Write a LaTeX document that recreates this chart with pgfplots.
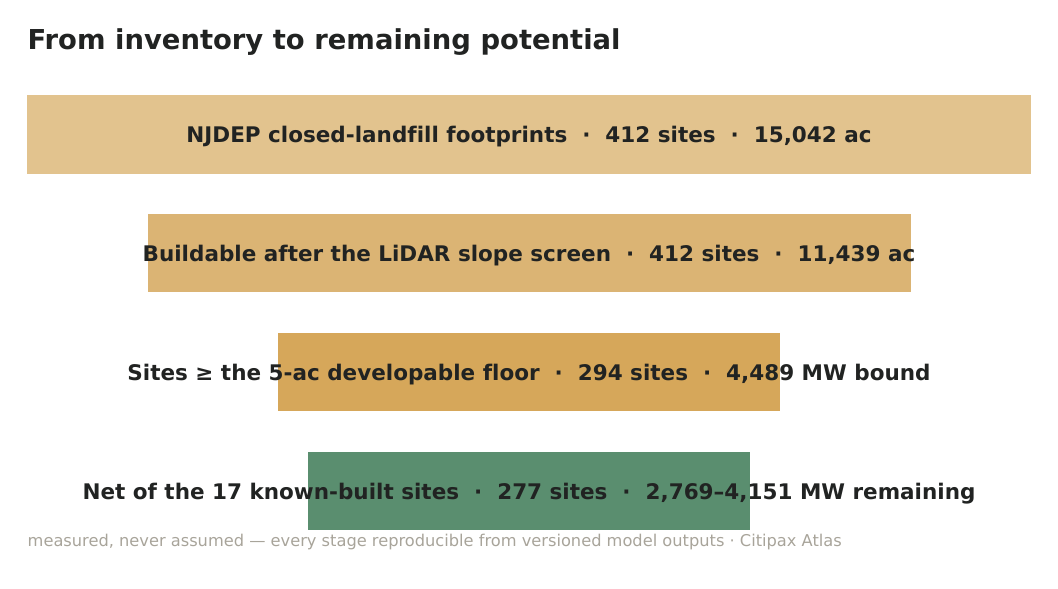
\documentclass[border=0pt]{standalone}
\usepackage{pgfplots}
\pgfplotsset{compat=1.18}
\usepackage{fontspec}
\setmainfont[Ligatures=NoCommon]{DejaVu Sans}
\definecolor{barA}{HTML}{E2C38E}
\definecolor{barB}{HTML}{DBB474}
\definecolor{barC}{HTML}{D6A75A}
\definecolor{barD}{HTML}{5A8E6F}
\definecolor{ink}{HTML}{212322}
\definecolor{foot}{HTML}{A8A49A}
\begin{document}
\begin{tikzpicture}
  % 1 axis unit = 1 px of the reference; y runs downward
  \begin{axis}[
    width=10.58cm, height=5.89cm, scale only axis,
    xmin=-27, xmax=1031, ymin=0, ymax=589,
    y dir=reverse,
    hide axis, clip=false,
  ]
    % keep the whole canvas in the bounding box
    \path (rel axis cs:0,0) rectangle (rel axis cs:1,1);

    % funnel bars: left edge, right edge, top, bottom (px)
    \addplot[fill=barA, draw=none] coordinates {(0,95) (1004,95) (1004,174) (0,174)} -- cycle;
    \addplot[fill=barB, draw=none] coordinates {(121,214) (884,214) (884,292) (121,292)} -- cycle;
    \addplot[fill=barC, draw=none] coordinates {(251,333) (753,333) (753,411) (251,411)} -- cycle;
    \addplot[fill=barD, draw=none] coordinates {(281,452) (723,452) (723,530) (281,530)} -- cycle;

    \node[anchor=base west, inner sep=0, text=ink, font=\bfseries\fontsize{7.8}{9}\selectfont]
      at (axis cs:0,50) {From inventory to remaining potential};

    \tikzset{lbl/.style={anchor=base, inner sep=0, text=ink, font=\bfseries\fontsize{6.12}{7}\selectfont}}
    \node[lbl] at (axis cs:502,143) {NJDEP closed-landfill footprints~~·~~412 sites~~·~~15,042 ac};
    \node[lbl] at (axis cs:502,262) {Buildable after the LiDAR slope screen~~·~~412 sites~~·~~11,439 ac};
    \node[lbl] at (axis cs:502,381) {Sites ≥ the 5-ac developable floor~~·~~294 sites~~·~~4,489 MW bound};
    \node[lbl] at (axis cs:502,500) {Net of the 17 known-built sites~~·~~277 sites~~·~~2,769–4,151 MW remaining};

    \node[anchor=base west, inner sep=0, text=foot, font=\fontsize{4.62}{5.5}\selectfont]
      at (axis cs:0,546.5) {measured, never assumed — every stage reproducible from versioned model outputs · Citipax Atlas};
  \end{axis}
\end{tikzpicture}
\end{document}
